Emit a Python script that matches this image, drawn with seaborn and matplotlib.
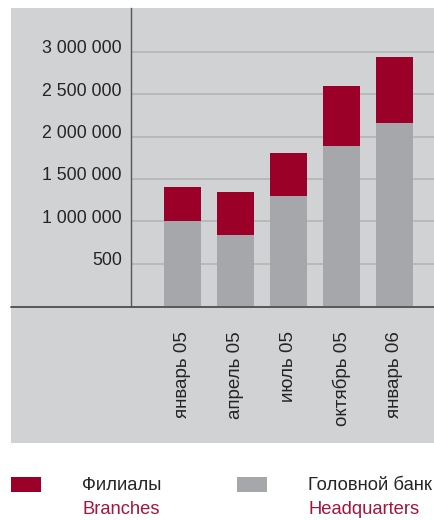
import matplotlib
matplotlib.use("Agg")
import matplotlib.pyplot as plt
import matplotlib.transforms as mtransforms
from matplotlib.patches import Rectangle
from matplotlib.lines import Line2D
import seaborn as sns
import pandas as pd

# Данные
months = ["январь 05", "апрель 05", "июль 05", "октябрь 05", "январь 06"]
headquarters = [1000000, 840000, 1293000, 1893000, 2165000]
branches = [403000, 509000, 509000, 701000, 769000]
y_ticks = [500000, 1000000, 1500000, 2000000, 2500000, 3000000]
y_labels = ["500", "1 000 000", "1 500 000", "2 000 000", "2 500 000", "3 000 000"]

RED = "#9b0028"
GRAY = "#a6a7aa"
PANEL = "#d1d2d4"
GRID = "#b6b7ba"
TEXT = "#262425"
RED_TEXT = "#a3153c"
FS = 13.2

sns.set_theme(style="white")
plt.rcParams['font.family'] = ['Liberation Sans', 'DejaVu Sans']

W, H = 434, 520
fig = plt.figure(figsize=(W / 100, H / 100), dpi=100)

# серый фон-панель
fig.patches.append(Rectangle((11 / W, 1 - 443 / H), (W - 11) / W, (443 - 8) / H,
                             transform=fig.transFigure, facecolor=PANEL,
                             edgecolor="none", zorder=-10))

ax = fig.add_axes([131 / W, 1 - 306 / H, (W - 131) / W, (306 - 8) / H])
ax.set_facecolor("none")

df = pd.DataFrame({"month": months, "hq": headquarters, "br": branches})
df["total"] = df["hq"] + df["br"]

sns.barplot(data=df, x="month", y="total", color=RED, width=0.7,
            saturation=1, linewidth=0, ax=ax, zorder=3)
sns.barplot(data=df, x="month", y="hq", color=GRAY, width=0.7,
            saturation=1, linewidth=0, ax=ax, zorder=4)

ax.set_xlim(-0.97, 4.745)
ax.set_ylim(0, 3517000)
ax.set_xlabel("")
ax.set_ylabel("")

for v in y_ticks:
    ax.axhline(v, color=GRID, linewidth=1.3, zorder=1)

ax.set_yticks(y_ticks)
ax.set_yticklabels(y_labels, fontsize=12.8, color=TEXT)
ax.tick_params(axis="y", length=0, pad=6.5)
offset = mtransforms.ScaledTranslation(0, 5 / 100, fig.dpi_scale_trans)
for lbl in ax.get_yticklabels():
    lbl.set_transform(lbl.get_transform() + offset)

ax.tick_params(axis="x", length=0, pad=18, labelsize=13.5, labelcolor=TEXT)
plt.setp(ax.get_xticklabels(), rotation=90, va="top", ha="center")

for s in ["top", "right", "bottom"]:
    ax.spines[s].set_visible(False)
ax.spines["left"].set_color("#55575a")
ax.spines["left"].set_linewidth(1.0)

# нижняя линия через всю панель
fig.lines.append(Line2D([11 / W, 1], [1 - 306.7 / H, 1 - 306.7 / H],
                        transform=fig.transFigure, color="#4d4e50",
                        linewidth=1.3, zorder=5))

# легенда
fig.patches.append(Rectangle((11 / W, 1 - 492 / H), 30 / W, 15.5 / H,
                             transform=fig.transFigure, facecolor=RED,
                             edgecolor="none"))
fig.patches.append(Rectangle((237 / W, 1 - 492 / H), 30 / W, 15.5 / H,
                             transform=fig.transFigure, facecolor=GRAY,
                             edgecolor="none"))
fig.text(82 / W, 1 - 485 / H, "Филиалы", fontsize=FS, color=TEXT, va="center")
fig.text(82 / W, 1 - 510 / H, "Branches", fontsize=FS, color=RED_TEXT, va="center")
fig.text(308 / W, 1 - 485 / H, "Головной банк", fontsize=FS, color=TEXT, va="center")
fig.text(308 / W, 1 - 510 / H, "Headquarters", fontsize=FS, color=RED_TEXT, va="center")

fig.savefig("out.png", dpi=100)
